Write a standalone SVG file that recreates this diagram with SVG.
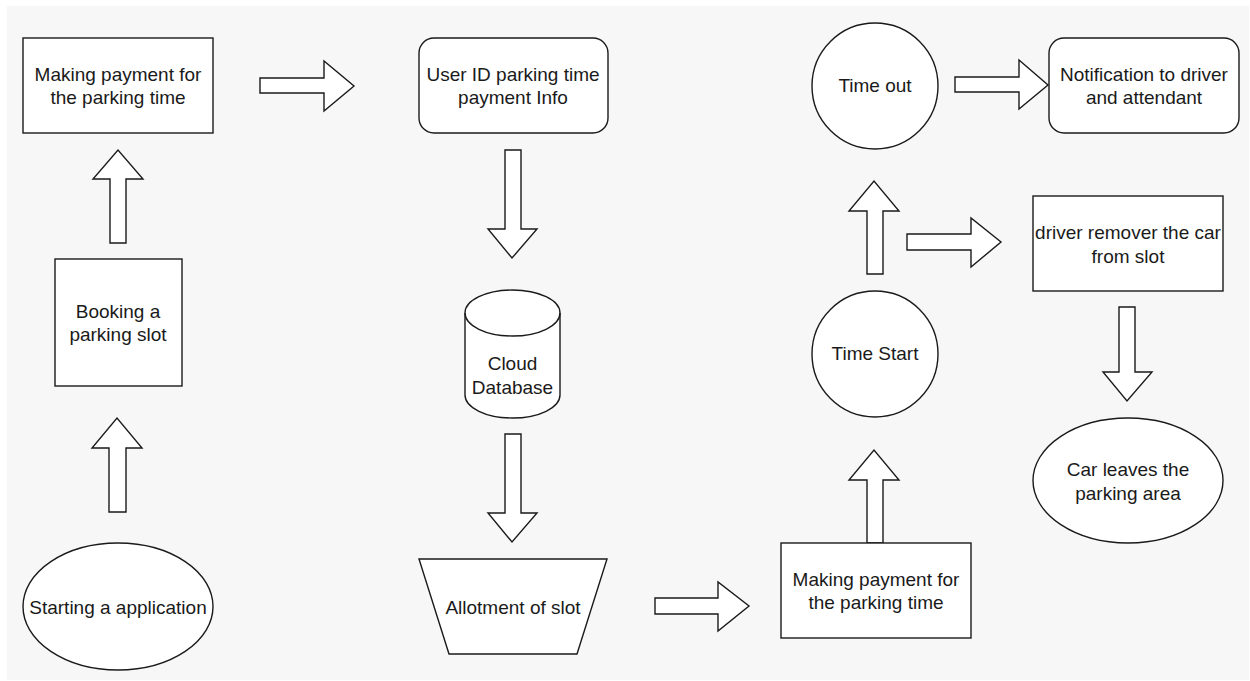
<svg xmlns="http://www.w3.org/2000/svg" width="1250" height="681" viewBox="0 0 1250 681">
<style>
.s{fill:#ffffff;stroke:#1a1a1a;stroke-width:1.4}
.a{fill:#ffffff;stroke:#1a1a1a;stroke-width:1.4;stroke-linejoin:miter}
text{font-family:"Liberation Sans",Arial,sans-serif;font-size:19px;fill:#1a1a1a;text-anchor:middle;dominant-baseline:central}
</style>
<rect x="0" y="0" width="1250" height="681" fill="#ffffff"/>
<rect x="7" y="6" width="1242" height="674" fill="#f7f7f7"/>
<g id="connectors">
<path class="a" d="M109,512 V448 H92 L117,418 L142,448 H126 V512 Z"/>
<path class="a" d="M110,243 V179 H93 L118,150 L143,179 H126 V243 Z"/>
<path class="a" d="M260,78 H324 V61 L354,86 L324,111 V93 H260 Z"/>
<path class="a" d="M505,150 V229 H488 L512,258 L537,229 H521 V150 Z"/>
<path class="a" d="M505,434 V513 H488 L512,542 L537,513 H521 V434 Z"/>
<path class="a" d="M655,598 H718 V582 L749,606 L718,631 V614 H655 Z"/>
<path class="a" d="M867,543 V480 H849 L874,450 L899,480 H883 V543 Z"/>
<path class="a" d="M867,274 V211 H849 L874,181 L899,211 H883 V274 Z"/>
<path class="a" d="M955,77 H1019 V60 L1048,85 L1019,109 V92 H955 Z"/>
<path class="a" d="M907,234 H971 V218 L1001,242 L971,267 V250 H907 Z"/>
<path class="a" d="M1119,307 V372 H1103 L1127,401 L1152,372 H1135 V307 Z"/>
</g>
<g id="pay1">
<rect class="s" x="23" y="38" width="190" height="95"/>
<text x="118" y="74">Making payment for</text>
<text x="118" y="97">the parking time</text>
</g>
<g id="booking">
<rect class="s" x="55" y="259" width="127" height="127"/>
<text x="118" y="311">Booking a</text>
<text x="118" y="334">parking slot</text>
</g>
<g id="start">
<ellipse class="s" cx="118" cy="606.5" rx="95" ry="63.5"/>
<text x="118" y="607">Starting a application</text>
</g>
<g id="userinfo">
<rect class="s" x="419" y="38" width="189" height="95" rx="15" ry="15"/>
<text x="513" y="74">User ID parking time</text>
<text x="513" y="97">payment Info</text>
</g>
<g id="db">
<path class="s" d="M465,313 A47.5,23 0 0 1 560,313 V395 A47.5,23 0 0 1 465,395 Z"/>
<path fill="none" stroke="#1a1a1a" stroke-width="1.4" d="M465,313 A47.5,23 0 0 0 560,313"/>
<text x="512.5" y="363">Cloud</text>
<text x="512.5" y="387">Database</text>
</g>
<g id="allot">
<path class="s" d="M419,559 H607 L577,654 H449 Z"/>
<text x="513" y="607">Allotment of slot</text>
</g>
<g id="pay2">
<rect class="s" x="781" y="543" width="190" height="95"/>
<text x="876" y="579">Making payment for</text>
<text x="876" y="602">the parking time</text>
</g>
<g id="timestart">
<circle class="s" cx="875" cy="354" r="63"/>
<text x="875" y="353">Time Start</text>
</g>
<g id="timeout">
<circle class="s" cx="875" cy="86" r="63"/>
<text x="875" y="85">Time out</text>
</g>
<g id="notify">
<rect class="s" x="1049" y="38" width="190" height="95" rx="15" ry="15"/>
<text x="1144" y="74">Notification to driver</text>
<text x="1144" y="97">and attendant</text>
</g>
<g id="remove">
<rect class="s" x="1033" y="196" width="190" height="95"/>
<text x="1128" y="232">driver remover the car</text>
<text x="1128" y="256">from slot</text>
</g>
<g id="leave">
<ellipse class="s" cx="1128" cy="480.5" rx="95" ry="62.5"/>
<text x="1128" y="469">Car leaves the</text>
<text x="1128" y="493">parking area</text>
</g>
</svg>
